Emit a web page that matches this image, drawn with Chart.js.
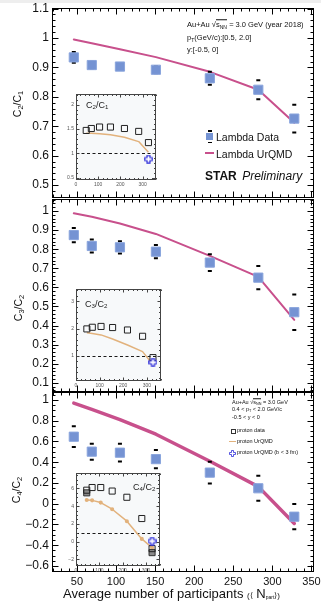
<!DOCTYPE html>
<html><head><meta charset="utf-8">
<script src="https://cdn.jsdelivr.net/npm/chart.js@4.4.1/dist/chart.umd.min.js"></script>
<style>
html,body{margin:0;padding:0;background:#fff;}
#wrap{position:relative;width:321px;height:601px;overflow:hidden;font-family:"Liberation Sans",Arial,Helvetica,sans-serif;color:#111;}
#wrap canvas{position:absolute;left:0;top:0;}
.t{position:absolute;white-space:nowrap;line-height:1;transform:translateY(-50%);}
.t sub{font-size:68%;vertical-align:-0.3em;line-height:0;}
.rot{position:absolute;white-space:nowrap;line-height:1;transform:translate(-50%,-50%) rotate(-90deg);}
.rot sub{font-size:70%;vertical-align:-0.3em;line-height:0;}
.box{position:absolute;}
.ov{border-top:0.6px solid #111;}
</style></head><body>
<div id="wrap">
<div class="box" style="left:0;top:0;width:321px;height:3px;background:#eeeeee"></div>
<canvas id="c1" width="321" height="601"></canvas>
<canvas id="c2" width="321" height="601"></canvas>
<canvas id="c3" width="321" height="601"></canvas>
<canvas id="i1" width="321" height="601"></canvas>
<canvas id="i2" width="321" height="601"></canvas>
<canvas id="i3" width="321" height="601"></canvas>

<div class="rot" style="left:17px;top:104px;font-size:10.5px">C<sub>2</sub>/C<sub>1</sub></div>
<div class="rot" style="left:18px;top:308px;font-size:10.5px">C<sub>3</sub>/C<sub>2</sub></div>
<div class="rot" style="left:16px;top:490px;font-size:10.5px">C<sub>4</sub>/C<sub>2</sub></div>
<div class="t" style="left:63px;top:593px;font-size:13px">Average number of participants <span style="font-size:8px">(⟨</span> N<sub style="font-size:5px">part</sub><span style="font-size:8px">⟩)</span></div>

<div class="t" style="left:187px;top:25px;font-size:7.5px">Au+Au √<span class="ov">s<sub>NN</sub></span> = 3.0 GeV (year 2018)</div>
<div class="t" style="left:187px;top:38px;font-size:7.5px">p<sub>T</sub>(GeV/c):[0.5, 2.0]</div>
<div class="t" style="left:187px;top:50px;font-size:7.5px">y:[-0.5, 0]</div>

<div class="box" style="left:206px;top:133px;width:7px;height:7px;background:#7593d3"></div>
<div class="box" style="left:207.5px;top:130px;width:4px;height:1.5px;background:#000"></div>
<div class="box" style="left:207.5px;top:141.5px;width:4px;height:1.5px;background:#000"></div>
<div class="t" style="left:216px;top:136.5px;font-size:10.5px">Lambda Data</div>
<div class="box" style="left:205px;top:152px;width:9px;height:2px;background:#c8508c"></div>
<div class="t" style="left:216px;top:153.5px;font-size:10.5px">Lambda UrQMD</div>
<div class="t" style="left:205px;top:176px;font-size:12px"><b>STAR</b> <i style="margin-left:2px">Preliminary</i></div>

<div class="t" style="left:86px;top:105px;font-size:9px;color:#222">C<sub>2</sub>/C<sub>1</sub></div>
<div class="t" style="left:85px;top:304px;font-size:9px;color:#222">C<sub>3</sub>/C<sub>2</sub></div>
<div class="t" style="left:133px;top:487px;font-size:9px;color:#222">C<sub>4</sub>/C<sub>2</sub></div>

<div class="t" style="left:232px;top:403px;font-size:5.5px">Au+Au √<span class="ov">s<sub>NN</sub></span> = 3.0 GeV</div>
<div class="t" style="left:232px;top:410px;font-size:5.5px">0.4 &lt; p<sub>T</sub> &lt; 2.0 GeV/c</div>
<div class="t" style="left:232px;top:418px;font-size:5.5px">-0.5 &lt; y &lt; 0</div>
<div class="box" style="left:230.5px;top:429px;width:3px;height:3px;border:0.8px solid #333"></div>
<div class="t" style="left:237px;top:431px;font-size:5.5px">proton data</div>
<div class="box" style="left:229px;top:441px;width:7px;height:1.3px;background:#e2b27c"></div>
<div class="t" style="left:237px;top:442px;font-size:5.5px">proton UrQMD</div>
<svg style="position:absolute;left:229px;top:449.5px" width="7" height="7"><path d="M2.5 .5h2v2h2v2h-2v2h-2v-2h-2v-2h2z" fill="#fff" stroke="#2b2bd9" stroke-width=".8"/></svg>
<div class="t" style="left:237px;top:453px;font-size:5.5px">proton UrQMD (b &lt; 3 fm)</div>
</div>

<script>
// ---- data ----
const NPART = [46, 69, 105, 151, 220, 282, 328];
const C2C1_DATA  = [0.934, 0.908, 0.903, 0.892, 0.863, 0.824, 0.726];
const C2C1_ERR   = [0.018, 0.012, 0.012, 0.012, 0.022, 0.032, 0.047];
const C2C1_URQMD = [0.995, 0.982, 0.962, 0.935, 0.885, 0.824, 0.712];
const C3C2_DATA  = [0.874, 0.817, 0.810, 0.787, 0.730, 0.651, 0.470];
const C3C2_ERR   = [0.037, 0.034, 0.032, 0.035, 0.044, 0.061, 0.093];
const C3C2_URQMD = [0.988, 0.970, 0.935, 0.880, 0.765, 0.655, 0.430];
const C4C2_DATA  = [0.646, 0.502, 0.492, 0.430, 0.300, 0.149, -0.125];
const C4C2_ERR   = [0.100, 0.077, 0.085, 0.088, 0.104, 0.120, 0.122];
const C4C2_URQMD = [0.970, 0.910, 0.810, 0.670, 0.410, 0.165, -0.190];

const NPART_P = [46, 69, 106, 155, 218, 282, 326];
const P_C2C1       = [1.47, 1.51, 1.54, 1.54, 1.51, 1.45, 1.22];
const P_C2C1_URQMD = [1.41, 1.41, 1.40, 1.38, 1.33, 1.24, 1.02];
const P_C3C2       = [1.99, 2.05, 2.08, 2.04, 1.95, 1.72, 0.94];
const P_C3C2_URQMD = [1.85, 1.82, 1.77, 1.62, 1.40, 1.16, 0.68];
const P_C4C2       = [5.8, 6.1, 6.1, 5.7, 5.0, 2.6, -0.8];
const P_C4C2_B     = [5.5, null, null, null, null, null, -1.25];
const P_C4C2_URQMD = [4.7, 4.65, 4.4, 3.65, 2.3, 0.3, -0.7];
const NPART_CENTRAL = [326];
const P_C2C1_CENTRAL = [0.88];
const P_C3C2_CENTRAL = [0.77];
const P_C4C2_CENTRAL = [0.05];

const X_TICKS = [50, 100, 150, 200, 250, 300, 350];
const Y1_TICKS = [0.5, 0.6, 0.7, 0.8, 0.9, 1, 1.1];
const Y2_TICKS = [0.1, 0.2, 0.3, 0.4, 0.5, 0.6, 0.7, 0.8, 0.9, 1];
const Y3_TICKS = [-0.6, -0.4, -0.2, 0, 0.2, 0.4, 0.6, 0.8, 1];
const IX_TICKS = [0, 100, 200, 300];
const I1_TICKS = [0.5, 1, 1.5, 2];
const I2_TICKS = [1, 2, 3];
const I3_TICKS = [-2, 0, 2, 4, 6];

// ---- helpers ----
const FONT = '"Liberation Sans", Arial, Helvetica, sans-serif';
const W = 321, H = 601;
const BLUE = '#7593d3', PINK = '#c8508c', ORANGE = '#e2b27c', CROSSBLUE = '#2b2bd9';

function fmt(v){ const r = Math.round(v*100)/100; return (r < 0 ? '\u2212' : '') + String(Math.abs(r)); }
function pts(xs, ys){ return xs.map((x,i) => ({x, y: ys[i]})); }
function caps(xs, ys, es){ const o=[]; xs.forEach((x,i)=>{ o.push({x, y: ys[i]-es[i]}, {x, y: ys[i]+es[i]}); }); return o; }
function steps(min, max, step){ const o=[]; const k0=Math.ceil(min/step-1e-6), k1=Math.floor(max/step+1e-6); for(let k=k0;k<=k1;k++) o.push(k*step); return o; }

const crossImg = (() => {
  const c = document.createElement('canvas'); c.width = 9; c.height = 9;
  const g = c.getContext('2d');
  g.fillStyle = '#fff'; g.strokeStyle = CROSSBLUE; g.lineWidth = 1.2;
  g.beginPath();
  g.moveTo(3,0.8); g.lineTo(6,0.8); g.lineTo(6,3); g.lineTo(8.2,3); g.lineTo(8.2,6); g.lineTo(6,6);
  g.lineTo(6,8.2); g.lineTo(3,8.2); g.lineTo(3,6); g.lineTo(0.8,6); g.lineTo(0.8,3); g.lineTo(3,3); g.closePath();
  g.fill(); g.stroke();
  return c;
})();

const framePlugin = {
  id: 'frame',
  beforeDraw(chart, args, o){
    if (!o.bg) return;
    const a = chart.chartArea, c = chart.ctx;
    c.save(); c.fillStyle = o.bg; c.fillRect(a.left, a.top, a.right-a.left, a.bottom-a.top); c.restore();
  },
  beforeDatasetsDraw(chart, args, o){
    if (o.refY == null) return;
    const a = chart.chartArea, c = chart.ctx;
    const y = Math.round(chart.scales.y.getPixelForValue(o.refY)) + .5;
    c.save(); c.strokeStyle = '#000'; c.lineWidth = 0.9; c.setLineDash([3, 2.5]);
    c.beginPath(); c.moveTo(a.left, y); c.lineTo(a.right, y); c.stroke(); c.restore();
  },
  afterDraw(chart, args, o){
    if (!o.color) return;
    const {ctx: c, chartArea: a, scales: {x, y}} = chart;
    const L = Math.round(a.left)+.5, R = Math.round(a.right)-.5, T = Math.round(a.top)+.5, B = Math.round(a.bottom)-.5;
    c.save(); c.strokeStyle = o.color; c.lineWidth = 1; c.beginPath();
    const xt = (step, len) => steps(x.min, x.max, step).forEach(v => { const p = Math.round(x.getPixelForValue(v))+.5; c.moveTo(p,B); c.lineTo(p,B-len); c.moveTo(p,T); c.lineTo(p,T+len); });
    const yt = (step, len) => steps(y.min, y.max, step).forEach(v => { const p = Math.round(y.getPixelForValue(v))+.5; c.moveTo(L,p); c.lineTo(L+len,p); c.moveTo(R,p); c.lineTo(R-len,p); });
    xt(o.xMinor, o.minor); xt(o.xMajor, o.major); yt(o.yMinor, o.minor); yt(o.yMajor, o.major);
    c.stroke(); c.strokeRect(L, T, R-L, B-T); c.restore();
  }
};
Chart.register(framePlugin);

function make(id, cfg){
  const r = cfg.rect;
  return new Chart(document.getElementById(id), {
    type: 'scatter',
    data: { datasets: cfg.datasets },
    options: {
      responsive: false, animation: false, events: [], devicePixelRatio: 1,
      layout: { padding: { left: r.l - cfg.yW, top: r.t, right: W - r.r, bottom: H - r.b - cfg.xH } },
      plugins: { legend: {display: false}, tooltip: {enabled: false}, frame: cfg.frame },
      scales: {
        x: { type: 'linear', position: 'bottom', min: cfg.xr[0], max: cfg.xr[1],
          afterBuildTicks: s => { s.ticks = cfg.xTicks.map(v => ({value: v})); },
          afterFit: s => { s.height = cfg.xH; s.paddingLeft = 0; s.paddingRight = 0; },
          grid: {display: false, drawTicks: false}, border: {display: false},
          ticks: { display: cfg.xTicks.length > 0, autoSkip: false, maxRotation: 0, minRotation: 0, padding: cfg.xPad,
                   color: cfg.lc, font: {family: FONT, size: cfg.xF}, callback: v => fmt(v) } },
        y: { type: 'linear', position: 'left', min: cfg.yr[0], max: cfg.yr[1],
          afterBuildTicks: s => { s.ticks = cfg.yTicks.map(v => ({value: v})); },
          afterFit: s => { s.width = cfg.yW; s.paddingTop = 0; s.paddingBottom = 0; },
          grid: {display: false, drawTicks: false}, border: {display: false},
          ticks: { autoSkip: false, padding: cfg.yPad, color: cfg.lc, font: {family: FONT, size: cfg.yF}, callback: v => fmt(v) } }
      }
    }
  });
}

function mainSets(vals, errs, model, lw){
  return [
    {data: pts(NPART, vals), pointStyle: 'rect', pointRadius: 6.5, backgroundColor: BLUE, borderColor: '#8aa5dd', borderWidth: 1},
    {data: caps(NPART, vals, errs), pointStyle: 'line', pointRadius: 2, borderColor: '#000', borderWidth: 2},
    {data: pts(NPART, model), showLine: true, borderColor: PINK, backgroundColor: PINK, borderWidth: lw, pointRadius: 0, borderJoinStyle: 'round', borderCapStyle: 'round'}
  ];
}
function insetSets(vals, model, central, modelPts, extra){
  const s = [
    {data: pts(NPART_CENTRAL, central), pointStyle: crossImg, pointRadius: 4},
    {data: pts(NPART_P, vals), pointStyle: 'rect', pointRadius: 4.3, backgroundColor: 'rgba(255,255,255,0)', borderColor: '#222', borderWidth: 1}
  ];
  if (extra) s.push({data: pts(NPART_P, extra), pointStyle: 'rect', pointRadius: 4.3, backgroundColor: '#8a8a8a', borderColor: '#333', borderWidth: 1});
  s.push({data: pts(NPART_P, model), showLine: true, borderColor: ORANGE, backgroundColor: ORANGE, borderWidth: 1.5, pointRadius: modelPts, pointStyle: 'circle', borderJoinStyle: 'round'});
  return s;
}

const MAINFRAME = {color: '#000', xMajor: 50, xMinor: 10, major: 6, minor: 3};
const XR = [18.1, 352.6];

make('c1', {rect: {l:52, t:8, r:314, b:198}, yW: 52, xH: 0, xr: XR, yr: [0.456, 1.102],
  xTicks: [], yTicks: Y1_TICKS, xF: 11, yF: 12, xPad: 0, yPad: 3, lc: '#111',
  frame: Object.assign({yMajor: 0.1, yMinor: 0.02}, MAINFRAME),
  datasets: mainSets(C2C1_DATA, C2C1_ERR, C2C1_URQMD, 2)});
make('c2', {rect: {l:52, t:199, r:314, b:392}, yW: 52, xH: 0, xr: XR, yr: [0.052, 1.063],
  xTicks: [], yTicks: Y2_TICKS, xF: 11, yF: 12, xPad: 0, yPad: 3, lc: '#111',
  frame: Object.assign({yMajor: 0.1, yMinor: 0.02}, MAINFRAME),
  datasets: mainSets(C3C2_DATA, C3C2_ERR, C3C2_URQMD, 2)});
make('c3', {rect: {l:52, t:392, r:314, b:572}, yW: 52, xH: 29, xr: XR, yr: [-0.658, 1.077],
  xTicks: X_TICKS, yTicks: Y3_TICKS, xF: 11, yF: 12, xPad: 3, yPad: 3, lc: '#111',
  frame: Object.assign({yMajor: 0.2, yMinor: 0.05}, MAINFRAME),
  datasets: mainSets(C4C2_DATA, C4C2_ERR, C4C2_URQMD, 3.5)});

const INFRAME = {color: '#444', xMajor: 100, xMinor: 20, major: 3, minor: 1.5, bg: '#f7f9fa', refY: 1};
make('i1', {rect: {l:76, t:94, r:156, b:180}, yW: 14, xH: 9, xr: [0, 360], yr: [0.45, 2.22],
  xTicks: IX_TICKS, yTicks: I1_TICKS, xF: 5, yF: 5, xPad: 2, yPad: 2, lc: '#555',
  frame: Object.assign({yMajor: 0.5, yMinor: 0.1}, INFRAME),
  datasets: insetSets(P_C2C1, P_C2C1_URQMD, P_C2C1_CENTRAL, 0)});
make('i2', {rect: {l:76, t:289, r:161, b:381}, yW: 14, xH: 9, xr: [0, 360], yr: [0.084, 3.45],
  xTicks: IX_TICKS, yTicks: I2_TICKS, xF: 5, yF: 5, xPad: 2, yPad: 2, lc: '#555',
  frame: Object.assign({yMajor: 1, yMinor: 0.2}, INFRAME),
  datasets: insetSets(P_C3C2, P_C3C2_URQMD, P_C3C2_CENTRAL, 0)});
make('i3', {rect: {l:76, t:473, r:160, b:566}, yW: 14, xH: 9, xr: [0, 360], yr: [-2.76, 7.74],
  xTicks: IX_TICKS, yTicks: I3_TICKS, xF: 5, yF: 5, xPad: 2, yPad: 2, lc: '#555',
  frame: Object.assign({yMajor: 2, yMinor: 0.5}, INFRAME),
  datasets: insetSets(P_C4C2, P_C4C2_URQMD, P_C4C2_CENTRAL, 1.3, P_C4C2_B)});
</script>
</body></html>
